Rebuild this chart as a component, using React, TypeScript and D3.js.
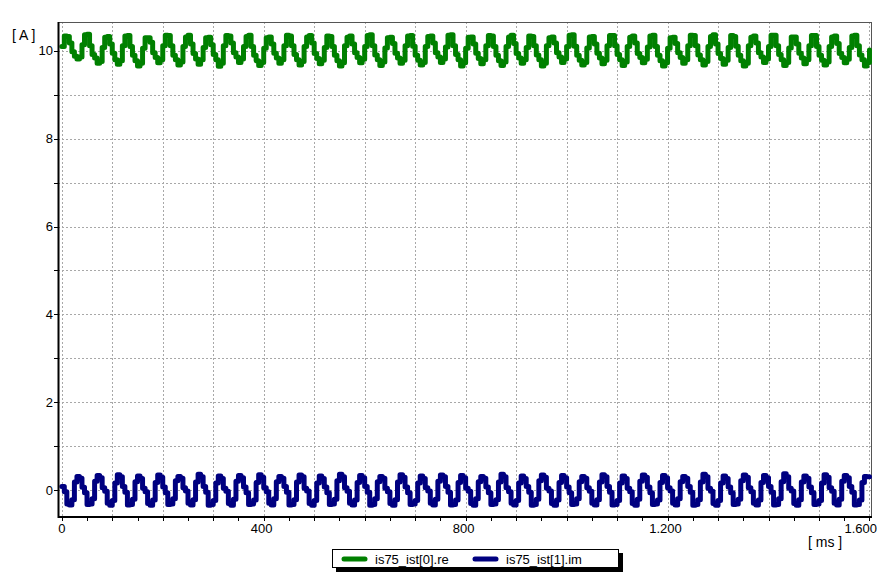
import React from "react";
import * as d3 from "d3";

// sample interval of the recorded signals, ms
const SAMPLE_MS = 5;

const seriesNames = ["is75_ist[0].re", "is75_ist[1].im"];
const seriesColors = ["#008000", "#000080"];

const xTickLabels = ["0", "400", "800", "1.200", "1.600"];
const xTickValues = [0, 400, 800, 1200, 1600];
const yTickValues = [0, 2, 4, 6, 8, 10];
const yTickLabels = ["0", "2", "4", "6", "8", "10"];

const greenValues = [
  10.10, 10.34, 10.33, 10.18, 9.98, 9.88, 9.82, 9.86,
  10.14, 10.37, 10.38, 10.12, 9.92, 9.84, 9.72, 9.76,
  10.08, 10.31, 10.33, 10.16, 9.95, 9.80, 9.70, 9.78,
  10.12, 10.34, 10.35, 10.10, 9.90, 9.78, 9.66, 9.72,
  10.06, 10.30, 10.30, 10.20, 9.96, 9.85, 9.73, 9.80,
  10.12, 10.36, 10.35, 10.12, 9.90, 9.80, 9.68, 9.75,
  10.10, 10.32, 10.36, 10.16, 9.94, 9.82, 9.70, 9.80,
  10.08, 10.30, 10.31, 10.14, 9.92, 9.80, 9.65, 9.72,
  10.12, 10.35, 10.34, 10.18, 9.96, 9.86, 9.74, 9.82,
  10.10, 10.33, 10.36, 10.10, 9.90, 9.78, 9.67, 9.74,
  10.06, 10.30, 10.32, 10.16, 9.95, 9.84, 9.72, 9.80,
  10.12, 10.36, 10.34, 10.12, 9.92, 9.80, 9.68, 9.76,
  10.10, 10.32, 10.35, 10.18, 9.94, 9.83, 9.71, 9.79,
  10.08, 10.34, 10.33, 10.10, 9.90, 9.78, 9.66, 9.73,
  10.12, 10.31, 10.34, 10.16, 9.96, 9.85, 9.73, 9.81,
  10.10, 10.35, 10.37, 10.12, 9.91, 9.80, 9.67, 9.75,
  10.07, 10.30, 10.31, 10.17, 9.95, 9.84, 9.72, 9.79,
  10.12, 10.34, 10.35, 10.11, 9.90, 9.79, 9.68, 9.74,
  10.10, 10.33, 10.34, 10.18, 9.96, 9.86, 9.74, 9.82,
  10.09, 10.36, 10.37, 10.12, 9.92, 9.80, 9.66, 9.73,
  10.06, 10.31, 10.32, 10.16, 9.95, 9.83, 9.71, 9.80,
  10.12, 10.35, 10.34, 10.10, 9.90, 9.78, 9.67, 9.75,
  10.10, 10.32, 10.36, 10.17, 9.94, 9.84, 9.72, 9.80,
  10.08, 10.34, 10.33, 10.12, 9.91, 9.80, 9.66, 9.72,
  10.12, 10.30, 10.32, 10.18, 9.96, 9.86, 9.74, 9.82,
  10.10, 10.36, 10.37, 10.11, 9.90, 9.79, 9.68, 9.74,
  10.07, 10.32, 10.33, 10.16, 9.95, 9.84, 9.71, 9.79,
  10.12, 10.35, 10.35, 10.12, 9.92, 9.80, 9.67, 9.75,
  10.10, 10.31, 10.34, 10.18, 9.94, 9.85, 9.73, 9.81,
  10.09, 10.34, 10.36, 10.10, 9.90, 9.78, 9.66, 9.73,
  10.06, 10.30, 10.31, 10.17, 9.96, 9.85, 9.72, 9.80,
  10.12, 10.36, 10.35, 10.12, 9.91, 9.80, 9.68, 9.76,
  10.10, 10.33, 10.37, 10.16, 9.94, 9.83, 9.70, 9.79,
  10.08, 10.35, 10.33, 10.11, 9.90, 9.78, 9.66, 9.72,
  10.12, 10.31, 10.34, 10.18, 9.96, 9.86, 9.74, 9.82,
  10.10, 10.36, 10.36, 10.12, 9.92, 9.80, 9.67, 9.74,
  10.07, 10.32, 10.32, 10.16, 9.95, 9.84, 9.71, 9.80,
  10.12, 10.35, 10.35, 10.10, 9.90, 9.79, 9.68, 9.75,
  10.10, 10.32, 10.34, 10.17, 9.94, 9.85, 9.73, 9.81,
  10.08, 10.34, 10.36, 10.12, 9.91, 9.80, 9.66, 9.74,
  10.02,
];

const blueValues = [
  0.08, -0.04, -0.32, -0.34, -0.22, 0.18, 0.31, 0.27,
  0.06, -0.06, -0.33, -0.32, -0.20, 0.20, 0.33, 0.28,
  0.05, -0.03, -0.30, -0.35, -0.24, 0.16, 0.35, 0.30,
  0.08, -0.05, -0.34, -0.33, -0.21, 0.19, 0.32, 0.26,
  0.04, -0.04, -0.31, -0.35, -0.23, 0.17, 0.34, 0.29,
  0.07, -0.06, -0.33, -0.32, -0.20, 0.21, 0.31, 0.27,
  0.05, -0.02, -0.30, -0.34, -0.22, 0.18, 0.36, 0.30,
  0.08, -0.05, -0.35, -0.33, -0.24, 0.16, 0.32, 0.26,
  0.04, -0.03, -0.31, -0.35, -0.21, 0.20, 0.33, 0.28,
  0.07, -0.06, -0.33, -0.32, -0.23, 0.17, 0.35, 0.29,
  0.05, -0.04, -0.30, -0.34, -0.20, 0.19, 0.31, 0.27,
  0.08, -0.05, -0.34, -0.33, -0.22, 0.18, 0.34, 0.30,
  0.04, -0.02, -0.31, -0.35, -0.24, 0.16, 0.32, 0.26,
  0.07, -0.06, -0.33, -0.32, -0.21, 0.21, 0.36, 0.30,
  0.05, -0.03, -0.30, -0.34, -0.23, 0.17, 0.33, 0.28,
  0.08, -0.05, -0.35, -0.33, -0.20, 0.19, 0.31, 0.27,
  0.04, -0.04, -0.31, -0.35, -0.22, 0.18, 0.35, 0.29,
  0.07, -0.06, -0.33, -0.32, -0.24, 0.16, 0.32, 0.26,
  0.05, -0.02, -0.30, -0.34, -0.21, 0.20, 0.34, 0.30,
  0.08, -0.05, -0.34, -0.33, -0.23, 0.17, 0.33, 0.28,
  0.04, -0.03, -0.31, -0.35, -0.20, 0.19, 0.31, 0.27,
  0.07, -0.06, -0.33, -0.32, -0.22, 0.18, 0.36, 0.30,
  0.05, -0.04, -0.30, -0.34, -0.24, 0.16, 0.32, 0.26,
  0.08, -0.05, -0.35, -0.33, -0.21, 0.21, 0.34, 0.29,
  0.04, -0.02, -0.31, -0.35, -0.23, 0.17, 0.33, 0.28,
  0.07, -0.06, -0.33, -0.32, -0.20, 0.19, 0.31, 0.27,
  0.05, -0.03, -0.30, -0.34, -0.22, 0.18, 0.35, 0.30,
  0.08, -0.05, -0.34, -0.33, -0.24, 0.16, 0.32, 0.26,
  0.04, -0.04, -0.31, -0.35, -0.21, 0.20, 0.34, 0.29,
  0.07, -0.06, -0.33, -0.32, -0.23, 0.17, 0.33, 0.28,
  0.05, -0.02, -0.30, -0.34, -0.20, 0.19, 0.31, 0.27,
  0.08, -0.05, -0.35, -0.33, -0.22, 0.18, 0.36, 0.30,
  0.04, -0.03, -0.31, -0.35, -0.24, 0.16, 0.32, 0.26,
  0.07, -0.06, -0.33, -0.32, -0.21, 0.21, 0.34, 0.29,
  0.05, -0.04, -0.30, -0.34, -0.23, 0.17, 0.33, 0.28,
  0.08, -0.05, -0.34, -0.33, -0.20, 0.19, 0.37, 0.30,
  0.04, -0.02, -0.31, -0.35, -0.22, 0.18, 0.32, 0.27,
  0.07, -0.06, -0.33, -0.32, -0.24, 0.16, 0.35, 0.29,
  0.05, -0.03, -0.30, -0.34, -0.21, 0.20, 0.33, 0.28,
  0.08, -0.05, -0.34, -0.33, -0.23, 0.17, 0.31, 0.30,
  0.30,
];

const W = 877;
const H = 575;
const PL = 58, PR = 871, PT = 22, PB = 517;
const FONT = "'Liberation Sans', Arial, sans-serif";

export default function App() {
  const x = d3.scaleLinear().domain([-7.5, 1603]).range([PL, PR]);
  const y = d3.scaleLinear().domain([-0.615, 10.66]).range([PB, PT]);

  const line = d3
    .line<number>()
    .x((_, i) => x(i * SAMPLE_MS))
    .y((d) => y(d))
    .curve(d3.curveStepAfter);

  const gridX = d3.range(0, 1601, 100);
  const gridY = d3.range(0, 11, 1);
  const minorX = d3.range(0, 1601, 50);

  const series = [greenValues, blueValues];

  return (
    <div style={{ position: "fixed", left: 0, top: 0 }}>
      <svg width={W} height={H} style={{ display: "block", background: "#fff" }}>
        <rect x={0} y={0} width={W} height={H} fill="#fff" />
        {/* grid */}
        <g stroke="#a8a8a8" strokeWidth={1} strokeDasharray="2,2">
          {gridX.map((v) => (
            <line key={"gx" + v} x1={Math.round(x(v)) + 0.5} x2={Math.round(x(v)) + 0.5} y1={PT} y2={PB} />
          ))}
          {gridY.map((v) => (
            <line key={"gy" + v} x1={PL} x2={PR} y1={Math.round(y(v)) + 0.5} y2={Math.round(y(v)) + 0.5} />
          ))}
        </g>
        {/* frame top / right */}
        <line x1={PL} x2={PR} y1={PT + 0.5} y2={PT + 0.5} stroke="#555" strokeWidth={1} />
        <line x1={PR + 0.5} x2={PR + 0.5} y1={PT} y2={PB} stroke="#555" strokeWidth={1} />
        {/* series */}
        <defs>
          <clipPath id="plotclip">
            <rect x={PL + 1} y={PT} width={PR - PL} height={PB - PT} />
          </clipPath>
        </defs>
        <g clipPath="url(#plotclip)">
          {series.map((vals, i) => (
            <path
              key={i}
              d={line(vals) || ""}
              fill="none"
              stroke={seriesColors[i]}
              strokeWidth={5}
              strokeLinejoin="round"
              strokeLinecap="round"
            />
          ))}
        </g>
        {/* axes */}
        <line x1={PL + 0.5} x2={PL + 0.5} y1={PT} y2={PB + 1} stroke="#000" strokeWidth={2} />
        <line x1={PL} x2={PR + 1} y1={PB} y2={PB} stroke="#000" strokeWidth={2} />
        {/* y ticks */}
        {gridY.map((v) => (
          <line key={"ty" + v} x1={PL - 4} x2={PL} y1={Math.round(y(v)) + 0.5} y2={Math.round(y(v)) + 0.5} stroke="#000" strokeWidth={1} />
        ))}
        {/* x ticks */}
        {minorX.map((v) => (
          <line key={"tx" + v} x1={Math.round(x(v)) + 0.5} x2={Math.round(x(v)) + 0.5} y1={PB} y2={PB + 4} stroke="#000" strokeWidth={1} />
        ))}
        {/* labels */}
        <g fontFamily={FONT} fontSize={13} fill="#000">
          {yTickValues.map((v, i) => (
            <text key={"ly" + v} x={PL - 5} y={y(v) + 4.5} textAnchor="end">
              {yTickLabels[i]}
            </text>
          ))}
          {xTickValues.map((v, i) => {
            const last = i === xTickValues.length - 1;
            return (
              <text
                key={"lx" + v}
                x={last ? W : x(v) - (i === 0 ? 0 : 2)}
                y={533}
                textAnchor={last ? "end" : "middle"}
              >
                {xTickLabels[i]}
              </text>
            );
          })}
          <text x={12} y={40} fontSize={14}>[ A ]</text>
          <text x={808} y={547} fontSize={14}>[ ms ]</text>
        </g>
        {/* legend */}
        <g fontFamily={FONT} fontSize={13}>
          <rect x={336} y={553} width={287} height={19} fill="#000" />
          <rect x={332.5} y={549.5} width={286} height={18} fill="#fff" stroke="#000" strokeWidth={1} />
          {seriesNames.map((name, i) => {
            const sx = i === 0 ? 344 : 475;
            return (
              <g key={name}>
                <line x1={sx} x2={sx + 21} y1={559} y2={559} stroke={seriesColors[i]} strokeWidth={5} strokeLinecap="round" />
                <text x={sx + 31} y={563.5} fill="#000">{name}</text>
              </g>
            );
          })}
        </g>
      </svg>
    </div>
  );
}
